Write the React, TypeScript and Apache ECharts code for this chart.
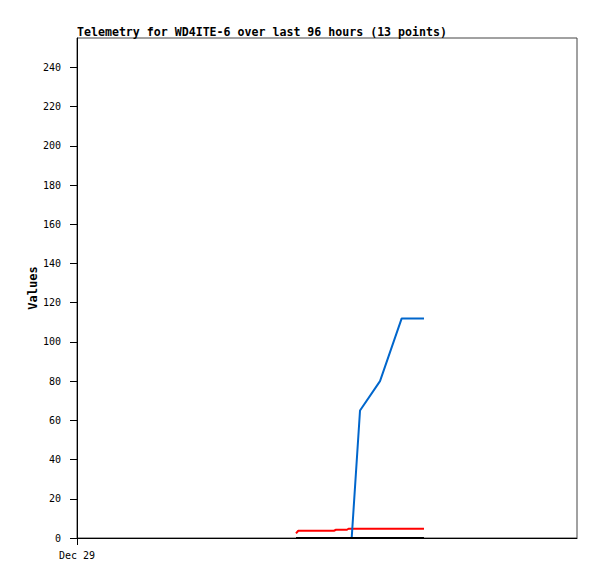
import React, { useEffect, useRef } from "react";
import * as echarts from "echarts";

const titleText = "Telemetry for WD4ITE-6 over last 96 hours (13 points)";
const xStartLabel = "Dec 29";
const yTicks = [0, 20, 40, 60, 80, 100, 120, 140, 160, 180, 200, 220, 240];

// [hours since start, value]
const redSeries: [number, number][] = [
  [42.05, 2.4], [42.49, 3.7], [49.34, 3.7], [49.73, 4.2], [51.84, 4.2], [52.13, 4.7], [66.62, 4.7],
];
const blueSeries: [number, number][] = [
  [52.74, 0], [54.34, 65], [58.18, 80], [62.34, 112], [66.62, 112],
];
const blackSeries: [number, number][] = [
  [42.05, 0], [52.74, 0], [66.62, 0],
];

const mono = "DejaVu Sans Mono";

export default function App() {
  const ref = useRef<HTMLDivElement>(null);
  useEffect(() => {
    const chart = echarts.init(ref.current!, null, { renderer: "svg" });
    chart.setOption({
      animation: false,
      backgroundColor: "#ffffff",
      title: {
        text: titleText,
        left: 72,
        top: 21,
        textStyle: { fontFamily: mono, fontWeight: "bold", fontSize: 11.6, color: "#000" },
      },
      grid: {
        left: 77, top: 38, width: 500, height: 500,
        show: true, borderColor: "#444", borderWidth: 1, backgroundColor: "#fff",
      },
      xAxis: {
        type: "value", min: 0, max: 96,
        axisLine: { show: true, lineStyle: { color: "#000", width: 1 } },
        axisTick: { show: true, length: 7, customValues: [0], lineStyle: { color: "#000" } },
        axisLabel: {
          customValues: [0],
          formatter: (v: number) => (v === 0 ? xStartLabel : ""),
          fontFamily: mono, fontSize: 10, color: "#000", margin: 12,
        },
        splitLine: { show: false },
      },
      yAxis: {
        type: "value", min: 0, max: 255,
        name: "Values", nameLocation: "middle", nameGap: 38, nameMoveOverlap: false,
        nameTextStyle: { fontFamily: mono, fontWeight: "bold", fontSize: 12, color: "#000" },
        axisLine: { show: true, lineStyle: { color: "#000", width: 1 } },
        axisTick: { show: true, length: 7, customValues: yTicks, lineStyle: { color: "#000" } },
        axisLabel: {
          customValues: yTicks,
          fontFamily: mono, fontSize: 10, color: "#000", margin: 16,
        },
        splitLine: { show: false },
      },
      series: [
        { type: "line", data: redSeries, showSymbol: false, lineStyle: { color: "#ff0000", width: 2 }, itemStyle: { color: "#ff0000" } },
        { type: "line", data: blueSeries, showSymbol: false, lineStyle: { color: "#0066cc", width: 2 }, itemStyle: { color: "#0066cc" } },
        { type: "line", data: blackSeries, showSymbol: false, lineStyle: { color: "#000000", width: 2 }, itemStyle: { color: "#000" } },
      ],
    });
    return () => chart.dispose();
  }, []);
  return <div ref={ref} style={{ position: "absolute", left: 0, top: 0, width: 597, height: 579 }} />;
}
